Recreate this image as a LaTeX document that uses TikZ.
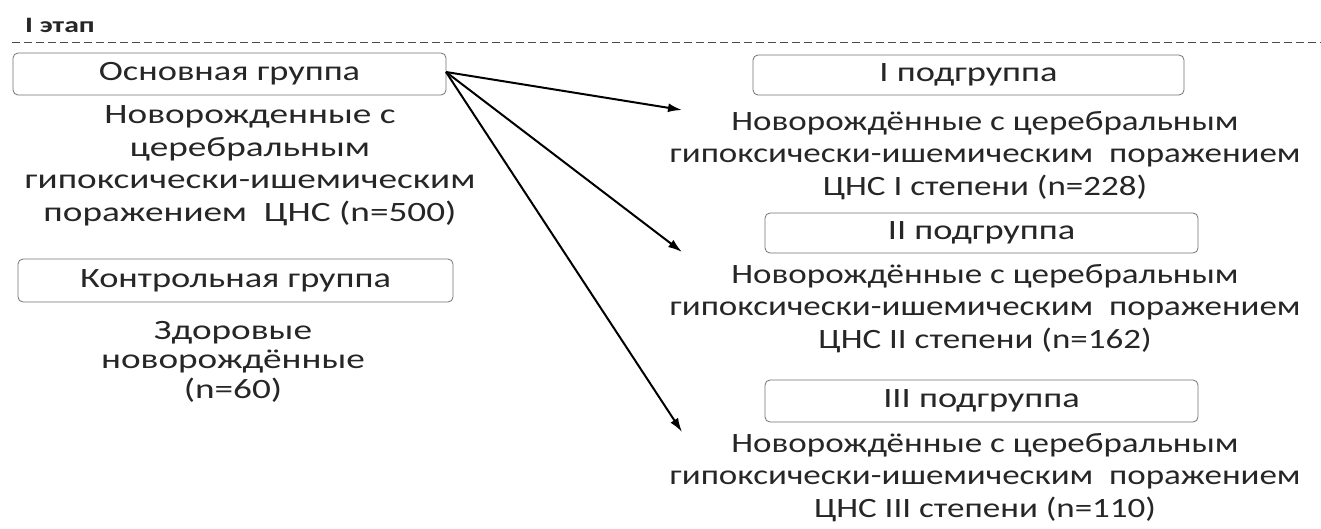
\documentclass[tikz,border=0pt]{standalone}
\usepackage{fontspec}
\setmainfont{Carlito}
\usetikzlibrary{arrows.meta}
\newcommand{\sxl}[1]{\scalebox{1.33}[1]{#1}}
\newcommand{\sxb}[1]{\scalebox{1.3}[1]{#1}}
\newcommand{\sxr}[1]{\scalebox{1.25}[1]{#1}}
\tikzset{
  grp/.style={draw=black!55, line width=0.8pt, rounded corners=5pt, fill=white, inner sep=0pt,
    font=\fontsize{28}{30}\selectfont, text=black!85},
  txt/.style={align=center, inner sep=0pt, anchor=base, font=\fontsize{28}{32.5}\selectfont, text=black!85},
  arr/.style={-{Latex[length=14pt,width=9pt]}, line width=2pt, black},
}
\begin{document}
\begin{tikzpicture}[x=1pt,y=-1pt]
\useasboundingbox (0,0) rectangle (1321,528);
\node[anchor=base west, inner sep=0pt, font=\bfseries\fontsize{22}{22}\selectfont, text=black!85] (stage) at (25,32) {\scalebox{1.35}[1]{I этап}};
\coordinate (dl) at (12,42);
\coordinate (dr) at (1321,42);
\draw[black!70, line width=0.9pt, dash pattern=on 8pt off 4pt] (dl) -- (dr);

\node[grp, minimum width=433pt, minimum height=42pt] (main) at (229.5,74) {\sxb{Основная группа}};
\node[txt] (maintext) at (250,221) {\sxl{Новорожденные с}\\ \sxl{церебральным}\\ \sxl{гипоксически-ишемическим}\\ \sxl{поражением\ \ ЦНС (n=500)}};

\node[grp, minimum width=435pt, minimum height=43pt] (ctrl) at (235.5,280.5) {\sxb{Контрольная группа}};
\node[txt, font=\fontsize{28}{29.5}\selectfont] (ctrltext) at (233,398) {\sxl{Здоровые}\\ \sxl{новорождённые}\\ \sxl{(n=60)}};

\node[grp, minimum width=431pt, minimum height=40pt] (g1) at (968.5,75) {\sxb{I подгруппа}};
\node[txt] (g1text) at (985,195) {\sxr{Новорождённые с церебральным}\\ \sxr{гипоксически-ишемическим\ \ поражением}\\ \sxr{ЦНС I степени (n=228)}};

\node[grp, minimum width=433pt, minimum height=40pt] (g2) at (981.5,233) {\sxb{II подгруппа}};
\node[txt] (g2text) at (985,348) {\sxr{Новорождённые с церебральным}\\ \sxr{гипоксически-ишемическим\ \ поражением}\\ \sxr{ЦНС II степени (n=162)}};

\node[grp, minimum width=433pt, minimum height=42pt] (g3) at (981.5,401) {\sxb{III подгруппа}};
\node[txt] (g3text) at (985,517) {\sxr{Новорождённые с церебральным}\\ \sxr{гипоксически-ишемическим\ \ поражением}\\ \sxr{ЦНС III степени (n=110)}};

\coordinate (src) at (446,72);
\coordinate (t1) at (682,110);
\coordinate (t2) at (682,252);
\coordinate (t3) at (682,432);
\draw[arr] (src) -- (t1);
\draw[arr] (src) -- (t2);
\draw[arr] (src) -- (t3);
\end{tikzpicture}
\end{document}
